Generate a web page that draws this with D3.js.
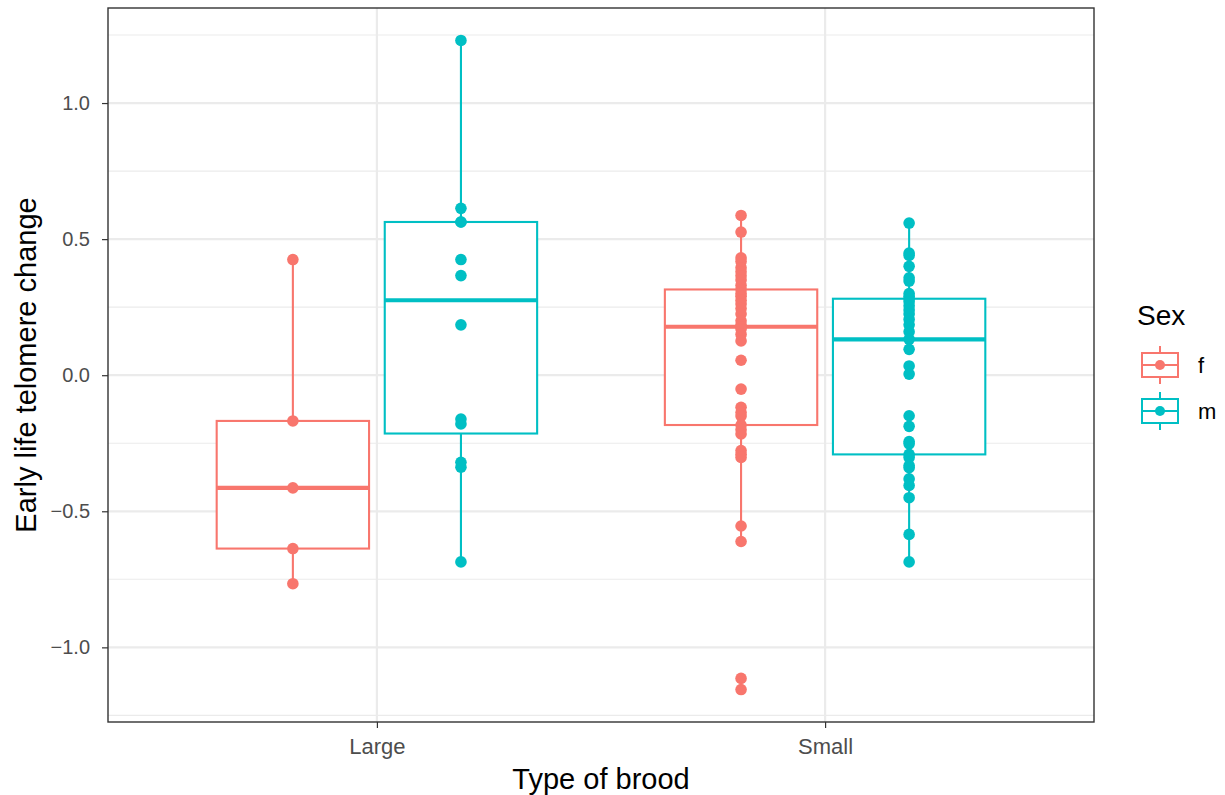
<!DOCTYPE html>
<html>
<head>
<meta charset="utf-8">
<script src="https://cdn.jsdelivr.net/npm/d3@7"></script>
<style>
  html, body { margin: 0; padding: 0; background: #fff; }
  svg { display: block; font-family: "Liberation Sans", Arial, sans-serif; }
</style>
</head>
<body>
<svg id="chart" width="1225" height="795"></svg>
<script>
// Brood types on the x axis and sex groups dodged within each
const categories = ["Large", "Small"];
const sexes = ["f", "m"];
const sexColors = ["#F8766D", "#00BFC4"];

// Early life telomere change per chick
const largeF = [0.425, -0.168, -0.414, -0.637, -0.766];
const largeM = [1.230, 0.613, 0.563, 0.563, 0.425, 0.366, 0.185, -0.161, -0.179, -0.320, -0.338, -0.686];
const smallF = [0.587, 0.526, 0.431, 0.418, 0.395, 0.380, 0.365, 0.350, 0.330, 0.315, 0.300, 0.290,
                0.275, 0.262, 0.245, 0.225, 0.200, 0.185, 0.178, 0.170, 0.150, 0.126, 0.055,
                -0.051, -0.118, -0.137, -0.150, -0.183, -0.200, -0.216, -0.277, -0.290, -0.302,
                -0.554, -0.611, -1.114, -1.155];
const smallM = [0.559, 0.449, 0.440, 0.400, 0.358, 0.346, 0.300, 0.290, 0.281, 0.270, 0.255, 0.240,
                0.225, 0.205, 0.185, 0.160, 0.132, 0.095, 0.034, 0.004, -0.149, -0.188, -0.244,
                -0.252, -0.291, -0.302, -0.332, -0.340, -0.381, -0.405, -0.450, -0.585, -0.686];

const yTicks = [-1.0, -0.5, 0.0, 0.5, 1.0];
const yTickLabels = ["\u22121.0", "\u22120.5", "0.0", "0.5", "1.0"];
const yMinor = [-1.25, -0.75, -0.25, 0.25, 0.75, 1.25];

const groups = [
  { cat: "Large", sex: "f", values: largeF },
  { cat: "Large", sex: "m", values: largeM },
  { cat: "Small", sex: "f", values: smallF },
  { cat: "Small", sex: "m", values: smallM }
];

const svg = d3.select("#chart");
const panel = { left: 108, right: 1094, top: 8, bottom: 722 };

const allVals = groups.flatMap(g => g.values);
const [vmin, vmax] = d3.extent(allVals);
const pad = (vmax - vmin) * 0.05;

const y = d3.scaleLinear().domain([vmin - pad, vmax + pad]).range([panel.bottom, panel.top]);
const x = d3.scalePoint().domain(categories).range([panel.left, panel.right]).padding(0.6);
const sexColor = d3.scaleOrdinal().domain(sexes).range(sexColors);
const step = x.step();
const dodge = d3.scaleOrdinal().domain(sexes).range([-0.1875 * step, 0.1875 * step]);
const boxW = 0.34 * step;

// panel background grid
const grid = svg.append("g");
grid.selectAll("line.minor").data(yMinor).join("line")
  .attr("x1", panel.left).attr("x2", panel.right)
  .attr("y1", d => y(d)).attr("y2", d => y(d))
  .attr("stroke", "#EBEBEB").attr("stroke-width", 1.1);
grid.selectAll("line.major").data(yTicks).join("line")
  .attr("x1", panel.left).attr("x2", panel.right)
  .attr("y1", d => y(d)).attr("y2", d => y(d))
  .attr("stroke", "#EBEBEB").attr("stroke-width", 2.2);
grid.selectAll("line.vmajor").data(categories).join("line")
  .attr("x1", d => x(d)).attr("x2", d => x(d))
  .attr("y1", panel.top).attr("y2", panel.bottom)
  .attr("stroke", "#EBEBEB").attr("stroke-width", 2.2);

// box statistics (quartiles by the R-7 rule, whiskers at 1.5 IQR)
function boxStats(vals) {
  const s = vals.slice().sort(d3.ascending);
  const q1 = d3.quantile(s, 0.25), med = d3.quantile(s, 0.5), q3 = d3.quantile(s, 0.75);
  const iqr = q3 - q1;
  const lo = d3.min(s.filter(v => v >= q1 - 1.5 * iqr));
  const hi = d3.max(s.filter(v => v <= q3 + 1.5 * iqr));
  return { q1, med, q3, lo, hi };
}

const boxes = svg.append("g");
groups.forEach(g => {
  const st = boxStats(g.values);
  const cx = x(g.cat) + dodge(g.sex);
  const col = sexColor(g.sex);
  const b = boxes.append("g");
  b.append("line").attr("x1", cx).attr("x2", cx).attr("y1", y(st.q3)).attr("y2", y(st.hi))
    .attr("stroke", col).attr("stroke-width", 2.1);
  b.append("line").attr("x1", cx).attr("x2", cx).attr("y1", y(st.q1)).attr("y2", y(st.lo))
    .attr("stroke", col).attr("stroke-width", 2.1);
  b.append("rect").attr("x", cx - boxW / 2).attr("width", boxW)
    .attr("y", y(st.q3)).attr("height", y(st.q1) - y(st.q3))
    .attr("fill", "#fff").attr("stroke", col).attr("stroke-width", 2.1);
  b.append("line").attr("x1", cx - boxW / 2).attr("x2", cx + boxW / 2)
    .attr("y1", y(st.med)).attr("y2", y(st.med))
    .attr("stroke", col).attr("stroke-width", 4.2);
});

// individual chicks
const pts = svg.append("g");
groups.forEach(g => {
  const cx = x(g.cat) + dodge(g.sex);
  pts.selectAll(null).data(g.values).join("circle")
    .attr("cx", cx).attr("cy", d => y(d)).attr("r", 5.8)
    .attr("fill", sexColor(g.sex));
});

// panel border
svg.append("rect").attr("x", panel.left).attr("y", panel.top)
  .attr("width", panel.right - panel.left).attr("height", panel.bottom - panel.top)
  .attr("fill", "none").attr("stroke", "#333333").attr("stroke-width", 1.4);

// axes
const yAxis = d3.axisLeft(y).tickValues(yTicks).tickFormat((d, i) => yTickLabels[i])
  .tickSize(6).tickPadding(12);
const gy = svg.append("g").attr("transform", `translate(${panel.left},0)`).call(yAxis);
gy.select(".domain").remove();
gy.selectAll(".tick line").attr("stroke", "#333333").attr("stroke-width", 1.2);
gy.selectAll(".tick text").attr("fill", "#4D4D4D").attr("font-size", 20)
  .attr("font-family", "Liberation Sans, Arial, sans-serif");

const xAxis = d3.axisBottom(x).tickSize(6).tickPadding(10);
const gx = svg.append("g").attr("transform", `translate(0,${panel.bottom})`).call(xAxis);
gx.select(".domain").remove();
gx.selectAll(".tick line").attr("stroke", "#333333").attr("stroke-width", 1.2);
gx.selectAll(".tick text").attr("fill", "#4D4D4D").attr("font-size", 22)
  .attr("font-family", "Liberation Sans, Arial, sans-serif");

// axis titles
svg.append("text").attr("x", (panel.left + panel.right) / 2).attr("y", 789)
  .attr("text-anchor", "middle").attr("font-size", 29).attr("fill", "#000")
  .text("Type of brood");
svg.append("text")
  .attr("transform", `translate(36,${(panel.top + panel.bottom) / 2}) rotate(-90)`)
  .attr("text-anchor", "middle").attr("font-size", 29).attr("fill", "#000")
  .text("Early life telomere change");

// legend
const legend = svg.append("g");
legend.append("text").attr("x", 1137).attr("y", 325).attr("font-size", 28).attr("fill", "#000").text("Sex");
const keyRows = legend.selectAll("g.key").data(sexes).join("g")
  .attr("transform", (d, i) => `translate(1141,${342 + i * 46})`);
keyRows.append("line").attr("x1", 19).attr("x2", 19).attr("y1", 4).attr("y2", 42)
  .attr("stroke", d => sexColor(d)).attr("stroke-width", 2);
keyRows.append("rect").attr("x", 1).attr("y", 11).attr("width", 36).attr("height", 24)
  .attr("fill", "#fff").attr("stroke", d => sexColor(d)).attr("stroke-width", 2);
keyRows.append("line").attr("x1", 1).attr("x2", 37).attr("y1", 23).attr("y2", 23)
  .attr("stroke", d => sexColor(d)).attr("stroke-width", 2);
keyRows.append("circle").attr("cx", 19).attr("cy", 23).attr("r", 5)
  .attr("fill", d => sexColor(d));
keyRows.append("text").attr("x", 57).attr("y", 31).attr("font-size", 22).attr("fill", "#000")
  .text(d => d);
</script>
</body>
</html>
